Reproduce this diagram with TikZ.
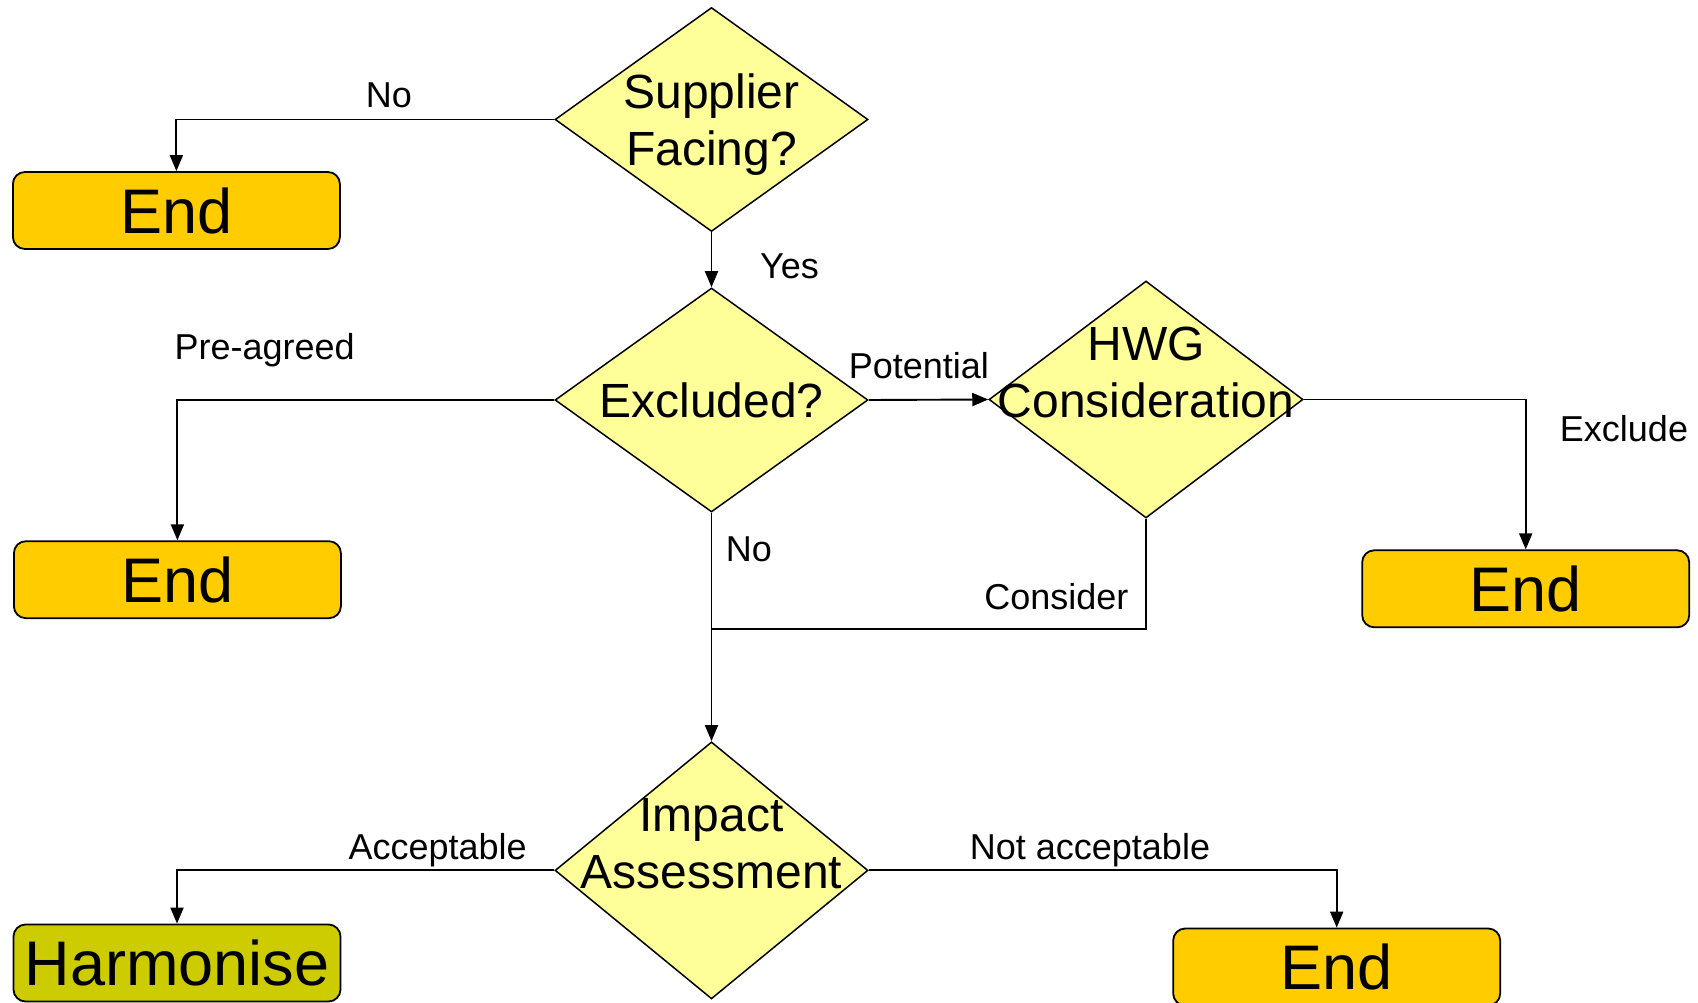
\documentclass[tikz,border=0pt]{standalone}
\usepackage{fontspec}
\setmainfont{Liberation Sans}
\usetikzlibrary{shapes.geometric,arrows.meta}
\definecolor{diafill}{HTML}{FFFF99}
\definecolor{endfill}{HTML}{FFCC00}
\definecolor{harmfill}{HTML}{CCCC00}
\begin{document}
\begin{tikzpicture}[x=1pt,y=-1pt,
 dia/.style={shape=diamond, draw, line width=1.5pt, fill=diafill, inner sep=0pt, minimum width=313pt},
 diatext/.style={align=center, inner sep=0pt, font=\fontsize{48}{57}\selectfont},
 endbox/.style={draw, line width=1.8pt, fill=endfill, rounded corners=12pt, minimum width=327pt, minimum height=77pt, inner sep=0pt, font=\fontsize{63}{70}\selectfont},
 lbl/.style={anchor=base, inner sep=0pt, font=\fontsize{36}{40}\selectfont},
 conn/.style={line width=1.9pt},
 arr/.style={conn, -{Triangle[length=16pt,width=13pt]}}]
\useasboundingbox (0,0) rectangle (1698,1003);
\node[dia, minimum height=224pt] (sup) at (711.5,119.5) {};
\node[diatext] (supt) at (711.5,124.6) {Supplier\\Facing?};
\node[endbox] (end1) at (176.4,210.5) {End};
\node[dia, minimum height=224pt] (exc) at (711.5,400) {};
\node[diatext, anchor=base] (exct) at (711.5,417) {Excluded?};
\node[endbox] (end2) at (177.4,579.7) {End};
\node[dia, minimum width=314pt, minimum height=237pt] (hwg) at (1146,399.5) {};
\node[diatext] (hwgt) at (1146,372) {HWG\\Consideration};
\node[endbox] (end3) at (1525.7,588.8) {End};
\node[dia, minimum height=257pt] (imp) at (711.5,870.4) {};
\node[diatext] (impt) at (711.5,843.5) {Impact\\Assessment};
\node[endbox, fill=harmfill] (harm) at (177,963) {Harmonise};
\node[endbox] (end4) at (1336.7,967) {End};
\coordinate (jn) at (711.5,629.3);
\draw[arr] (sup.west) -| (end1.north);
\draw[arr] (sup.south) -- (exc.north);
\draw[arr] (exc.west) -| (end2.north);
\draw[arr] (exc.east) -- (hwg.west);
\draw[arr] (hwg.east) -| (end3.north);
\draw[conn] (hwg.south) |- (jn);
\draw[arr] (exc.south) -- (imp.north);
\draw[arr] (imp.west) -| (harm.north);
\draw[arr] (imp.east) -| (end4.north);
\node[lbl] (lno1) at (389,107.3) {No};
\node[lbl] (lyes) at (789.5,278.3) {Yes};
\node[lbl] (lpre) at (264.7,359.3) {Pre-agreed};
\node[lbl] (lpot) at (918.8,378.3) {Potential};
\node[lbl] (lexc) at (1624,441.7) {Exclude};
\node[lbl] (lno2) at (749,561.7) {No};
\node[lbl] (lcon) at (1056.3,609.3) {Consider};
\node[lbl] (lacc) at (437.7,859.3) {Acceptable};
\node[lbl] (lnac) at (1090,859.3) {Not acceptable};
\end{tikzpicture}
\end{document}
